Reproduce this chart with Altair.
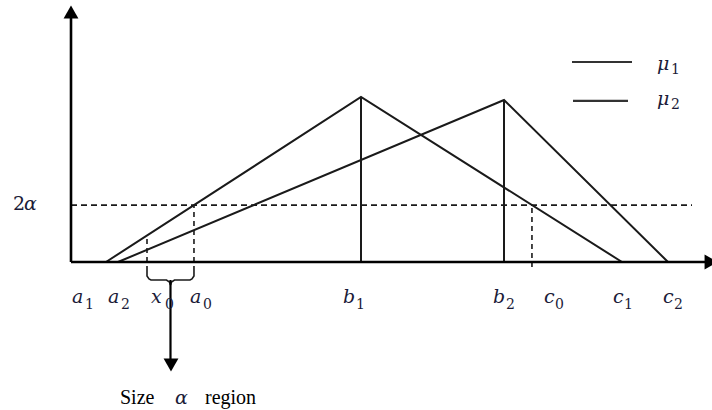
import altair as alt
import pandas as pd

# --- two triangular membership functions (x measured from the origin, y = grade) ---
mu1_x = [35, 290, 551]      # a1, b1, c1
mu1_y = [0.0, 1.0, 0.0]
mu2_x = [47, 433, 597]      # a2, b2, c2
mu2_y = [0.0, 0.982, 0.0]
cut_level = 0.345           # the 2α cut
x0 = 76

a1, b1, c1 = mu1_x
a2, b2, c2 = mu2_x
peak1, peak2 = mu1_y[1], mu2_y[1]

# where μ1 crosses the 2α level, and μ1 evaluated at x0
a0 = a1 + cut_level / peak1 * (b1 - a1)
c0 = c1 - cut_level / peak1 * (c1 - b1)
mu1_at_x0 = peak1 * (x0 - a1) / (b1 - a1)

# labels under the horizontal axis: letter, subscript and the point they name
label_letters = ["a", "a", "x", "a", "b", "b", "c", "c", "c"]
label_subs = ["1", "2", "0", "0", "1", "2", "0", "1", "2"]
label_points = [a1, a2, x0, a0, b1, b2, c0, c1, c2]

# ---------------- layout ----------------
label_nudge = [-34, -10, 4, -4, -18, -11, 12, -9, -5]
letter_advance = {"a": 13, "b": 13, "c": 11, "x": 14}
INK = "#1a1a1a"
MATH = "#1b1b38"
MATH_FONT = "DejaVu Serif"
LETTER_SIZE = 19
SUB_SIZE = 14

X = alt.Scale(domain=[-71, 641], nice=False, zero=False)
Y = alt.Scale(domain=[-148 / 165, 262 / 165], nice=False, zero=False)


def xe(f="x"):
    return alt.X(f"{f}:Q", scale=X, axis=None)


def ye(f="y"):
    return alt.Y(f"{f}:Q", scale=Y, axis=None)


def math_text(df, xf, yf, tf, italic=True, size=LETTER_SIZE, font=MATH_FONT, color=MATH):
    kw = dict(align="left", baseline="alphabetic", font=font, fontSize=size, color=color)
    if italic:
        kw["fontStyle"] = "italic"
    return alt.Chart(df).mark_text(**kw).encode(x=xe(xf), y=ye(yf), text=f"{tf}:N")


# membership triangles
tri = pd.DataFrame({
    "x": mu1_x + mu2_x,
    "y": mu1_y + mu2_y,
    "s": ["mu1"] * 3 + ["mu2"] * 3,
})
triangles = alt.Chart(tri).mark_line(color=INK, strokeWidth=2).encode(
    x=xe(), y=ye(), detail="s:N"
)

# verticals from each peak down to the axis
peaks = alt.Chart(pd.DataFrame({"x": [b1, b2], "y": [0, 0], "y2": [peak1, peak2]})).mark_rule(
    color=INK, strokeWidth=2
).encode(x=xe(), y=ye(), y2="y2:Q")

# coordinate axes
x_axis = alt.Chart(pd.DataFrame({"x": [0], "x2": [635], "y": [0]})).mark_rule(
    color="black", strokeWidth=2.6
).encode(x=xe(), x2="x2:Q", y=ye())
y_axis = alt.Chart(pd.DataFrame({"x": [0], "y": [0], "y2": [1.479]})).mark_rule(
    color="black", strokeWidth=2.6
).encode(x=xe(), y=ye(), y2="y2:Q")

heads = alt.Chart(pd.DataFrame({
    "x": [0, 640, 100],
    "y": [1.515, 0, -0.624],
    "shape": ["triangle-up", "triangle-right", "triangle-down"],
})).mark_point(filled=True, color="black", opacity=1, size=220).encode(
    x=xe(), y=ye(), shape=alt.Shape("shape:N", scale=None)
)

# dashed 2α level and dashed drop lines
dash_h = alt.Chart(pd.DataFrame({"x": [0], "x2": [621], "y": [cut_level]})).mark_rule(
    color=INK, strokeWidth=1.6, strokeDash=[6, 4]
).encode(x=xe(), x2="x2:Q", y=ye())
dash_v = alt.Chart(pd.DataFrame({
    "x": [x0, a0, c0],
    "y": [0, 0, -0.03],
    "y2": [mu1_at_x0, cut_level, cut_level],
})).mark_rule(color=INK, strokeWidth=1.6, strokeDash=[5, 4]).encode(
    x=xe(), y=ye(), y2="y2:Q"
)

# brace under [x0, a0] with the stem pointing to the caption
mid = (x0 + a0) / 2
brace = pd.DataFrame({
    "x": [x0, x0, x0 + 2, x0 + 4, mid - 4, mid - 1, mid,
          a0, a0, a0 - 2, a0 - 4, mid + 4, mid + 1, mid],
    "y": [-0.024, -0.085, -0.103, -0.109, -0.109, -0.121, -0.139] * 2,
    "o": list(range(7)) * 2,
    "side": ["l"] * 7 + ["r"] * 7,
})
brace_l = alt.Chart(brace).mark_line(color=INK, strokeWidth=1.6).encode(
    x=xe(), y=ye(), detail="side:N", order="o:Q"
)
stem = alt.Chart(pd.DataFrame({"x": [mid], "y": [-0.109], "y2": [-0.59]})).mark_rule(
    color="black", strokeWidth=2.2
).encode(x=xe(), y=ye(), y2="y2:Q")

# axis point labels
lab = pd.DataFrame({
    "letter": label_letters,
    "sub": label_subs,
    "x": [p + n for p, n in zip(label_points, label_nudge)],
})
lab["xs"] = lab["x"] + lab["letter"].map(letter_advance)
lab["y"] = -0.248
lab["ys"] = -0.285

letters = math_text(lab, "x", "y", "letter")
subs = math_text(lab, "xs", "ys", "sub", italic=False, size=SUB_SIZE)

# 2α on the vertical axis
two = math_text(pd.DataFrame({"x": [-58], "y": [0.315], "t": ["2"]}), "x", "y", "t", italic=False)
alpha_sym = math_text(pd.DataFrame({"x": [-47], "y": [0.315], "t": ["α"]}), "x", "y", "t")

# caption under the arrow
cap = pd.DataFrame({"x": [49, 134], "y": [-0.861, -0.861], "t": ["Size", "region"]})
caption = math_text(cap, "x", "y", "t", italic=False, size=20,
                    font="Liberation Serif", color="black")
cap_alpha = math_text(pd.DataFrame({"x": [104], "y": [-0.861], "t": ["α"]}), "x", "y", "t")

# legend
leg = pd.DataFrame({
    "x": [501, 502], "x2": [561, 557], "y": [1.212, 0.976],
    "name": ["μ", "μ"], "sub": ["1", "2"],
    "yl": [1.164, 0.952], "ys": [1.139, 0.927],
})
leg["xl"] = 586
leg["xs"] = 600
leg_lines = alt.Chart(leg).mark_rule(color="#333333", strokeWidth=2.2).encode(
    x=xe(), x2="x2:Q", y=ye()
)
leg_mu = math_text(leg, "xl", "yl", "name")
leg_sub = math_text(leg, "xs", "ys", "sub", italic=False, size=SUB_SIZE)

chart = alt.layer(
    dash_h, dash_v, triangles, peaks, x_axis, y_axis, heads,
    brace_l, stem, letters, subs, two, alpha_sym, caption, cap_alpha,
    leg_lines, leg_mu, leg_sub,
).properties(
    width=712, height=410, padding=0, autosize="none"
).configure_view(stroke=None)

chart.save("out.html", embed_options={"renderer": "svg", "actions": False})
